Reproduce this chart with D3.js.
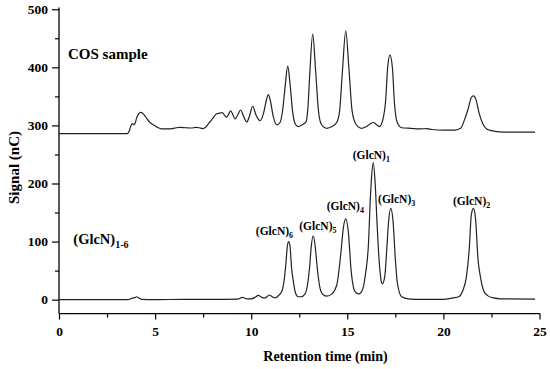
<!DOCTYPE html>
<html>
<head>
<meta charset="utf-8">
<script src="https://cdn.jsdelivr.net/npm/d3@7"></script>
<style>
    body { margin: 0; background: #fff; }
    svg text { font-family: "Liberation Serif", "Times New Roman", serif; font-weight: bold; fill: #000; }
</style>
</head>
<body>
<div id="chart"></div>
<script>
// 色谱图数据
const cosTrace = [
    [0, 286], [3.55, 286], [3.65, 290], [3.75, 300], [3.83, 303], [3.9, 301], [3.97, 305],
    [4.05, 314], [4.15, 320], [4.25, 322.5], [4.35, 321], [4.5, 315], [4.7, 306], [4.9, 301],
    [5.1, 297], [5.34, 294], [5.6, 294], [5.9, 294.5], [6.1, 296], [6.3, 296.5], [6.6, 296],
    [6.9, 295.5], [7.1, 296.5], [7.3, 296], [7.45, 294.5], [7.6, 296], [7.8, 304], [8.0, 312],
    [8.2, 320], [8.35, 321], [8.5, 322], [8.6, 318], [8.72, 314], [8.82, 319], [8.93, 325],
    [9.05, 318], [9.16, 311], [9.3, 318], [9.45, 326.5], [9.6, 316], [9.77, 306], [9.9, 315],
    [10.08, 333], [10.25, 318], [10.46, 308], [10.65, 322], [10.78, 342], [10.89, 353],
    [11.0, 342], [11.15, 315], [11.33, 301], [11.5, 305], [11.65, 330], [11.78, 372],
    [11.9, 402], [12.02, 372], [12.15, 325], [12.3, 302], [12.45, 298], [12.7, 302],
    [12.85, 306], [12.95, 330], [13.05, 390], [13.2, 457], [13.35, 395], [13.5, 325],
    [13.65, 302], [13.93, 295], [14.2, 298], [14.45, 305], [14.6, 325], [14.75, 395],
    [14.92, 463], [15.08, 400], [15.25, 325], [15.45, 302], [15.75, 295], [16.0, 298],
    [16.2, 303], [16.35, 305], [16.5, 302], [16.67, 298], [16.85, 310], [17.0, 345],
    [17.1, 400], [17.22, 421], [17.35, 398], [17.45, 340], [17.6, 305], [17.83, 296],
    [18.3, 295], [18.8, 294], [19.13, 294.5], [19.4, 293], [20.0, 292], [20.6, 292],
    [20.9, 295], [21.1, 310], [21.3, 330], [21.45, 348], [21.56, 351], [21.7, 344],
    [21.85, 322], [22.05, 303], [22.25, 294], [22.5, 291], [22.9, 289], [23.5, 288.5],
    [24.77, 288.5]
];

const glcnTrace = [
    [0, 0], [3.6, 0], [3.7, 1], [3.86, 3], [3.95, 3.5], [4.04, 5], [4.15, 3], [4.3, 0.5],
    [5, 0], [6.5, 0.5], [8, 0.5], [9.3, 1], [9.54, 4], [9.75, 1.5], [10.0, 1.5], [10.2, 4],
    [10.37, 7.5], [10.55, 4], [10.72, 3], [10.94, 8], [11.1, 5], [11.24, 3], [11.45, 8],
    [11.6, 15], [11.7, 30], [11.8, 60], [11.88, 92], [11.95, 100], [12.02, 92], [12.1, 55],
    [12.2, 30], [12.3, 12], [12.45, 5], [12.6, 5], [12.8, 10], [12.95, 30], [13.05, 60],
    [13.12, 90], [13.23, 110], [13.33, 92], [13.42, 60], [13.55, 25], [13.7, 10], [13.93, 6],
    [14.2, 10], [14.45, 25], [14.65, 75], [14.8, 125], [14.92, 139], [15.05, 118], [15.2, 50],
    [15.4, 14], [15.6, 10], [15.8, 18], [15.95, 45], [16.1, 95], [16.2, 175], [16.25, 205],
    [16.35, 236], [16.45, 200], [16.55, 130], [16.65, 70], [16.75, 35], [16.82, 27],
    [16.95, 40], [17.05, 85], [17.15, 135], [17.26, 157], [17.38, 135], [17.5, 70],
    [17.6, 30], [17.83, 5], [18.26, 1], [19, 0.5], [20, 0.5], [20.5, 3], [20.8, 5],
    [21.0, 15], [21.2, 40], [21.35, 90], [21.45, 145], [21.56, 157], [21.67, 140],
    [21.8, 70], [21.95, 35], [22.1, 15], [22.3, 7], [22.6, 3], [23, 1.5], [24.77, 1]
];

const xMajorTicks = [0, 5, 10, 15, 20, 25];
const xMinorTicks = [2.5, 7.5, 12.5, 17.5, 22.5];
const yMajorTicks = [0, 100, 200, 300, 400, 500];
const yMinorTicks = [50, 150, 250, 350, 450];

// 峰标注 [名称, 下标, 时间, 信号]
const peakLabels = [
    ['(GlcN)', '6', 10.24, 111],
    ['(GlcN)', '5', 12.5, 120],
    ['(GlcN)', '4', 13.93, 154],
    ['(GlcN)', '1', 15.28, 242],
    ['(GlcN)', '3', 16.6, 166],
    ['(GlcN)', '2', 20.5, 163]
];

const width = 550, height = 369;

const svg = d3.select('#chart')
    .append('svg')
    .attr('width', width)
    .attr('height', height);

const x = d3.scaleLinear().domain([0, 25]).range([59, 539.5]);
const y = d3.scaleLinear().domain([-24, 503]).range([313.6, 7.5]);

// 坐标轴
const xAxis = svg.append('g')
    .attr('transform', `translate(0,${y(-24)})`)
    .call(d3.axisBottom(x).tickValues(xMajorTicks).tickSize(6).tickPadding(7).tickFormat(d3.format('d')));
svg.append('g')
    .attr('transform', `translate(0,${y(-24)})`)
    .call(d3.axisBottom(x).tickValues(xMinorTicks).tickSize(4).tickFormat(''))
    .select('.domain').remove();

const yAxis = svg.append('g')
    .attr('transform', `translate(${x(0)},0)`)
    .call(d3.axisLeft(y).tickValues(yMajorTicks).tickSize(7).tickPadding(4));
svg.append('g')
    .attr('transform', `translate(${x(0)},0)`)
    .call(d3.axisLeft(y).tickValues(yMinorTicks).tickSize(4).tickFormat(''))
    .select('.domain').remove();

svg.selectAll('.domain').attr('stroke', '#000').attr('stroke-width', 1.3);
svg.selectAll('.tick line').attr('stroke', '#000').attr('stroke-width', 1.2);
svg.selectAll('.tick text').attr('font-size', '13.5px').attr('font-family', null);
xAxis.selectAll('.domain').attr('d', `M${x(0)},0H${x(25) + 0.5}`);
yAxis.selectAll('.domain').attr('d', `M0,${y(503)}V${y(-24)}`);

// 曲线
const line = d3.line()
    .x(d => x(d[0]))
    .y(d => y(d[1]))
    .curve(d3.curveMonotoneX);

[cosTrace, glcnTrace].forEach(trace => {
    svg.append('path')
        .datum(trace)
        .attr('fill', 'none')
        .attr('stroke', '#222')
        .attr('stroke-width', 1.2)
        .attr('stroke-linejoin', 'round')
        .attr('d', line);
});

// 峰标注
peakLabels.forEach(p => {
    const t = svg.append('text')
        .attr('x', x(p[2]))
        .attr('y', y(p[3]))
        .attr('font-size', '11.5px');
    t.append('tspan').text(p[0]);
    t.append('tspan').attr('font-size', '8px').attr('dy', 3).text(p[1]);
});

svg.append('text')
    .attr('x', 68)
    .attr('y', 58.5)
    .attr('font-size', '15px')
    .text('COS sample');

const mixLabel = svg.append('text')
    .attr('x', 73.3)
    .attr('y', 244)
    .attr('font-size', '14.5px');
mixLabel.append('tspan').text('(GlcN)');
mixLabel.append('tspan').attr('font-size', '10px').attr('dy', 3.5).text('1-6');

// 轴标题
svg.append('text')
    .attr('transform', 'translate(18.5,167.5) rotate(-90)')
    .attr('text-anchor', 'middle')
    .attr('font-size', '15px')
    .text('Signal (nC)');

svg.append('text')
    .attr('x', 325.5)
    .attr('y', 361)
    .attr('text-anchor', 'middle')
    .attr('font-size', '14px')
    .text('Retention time (min)');
</script>
</body>
</html>
